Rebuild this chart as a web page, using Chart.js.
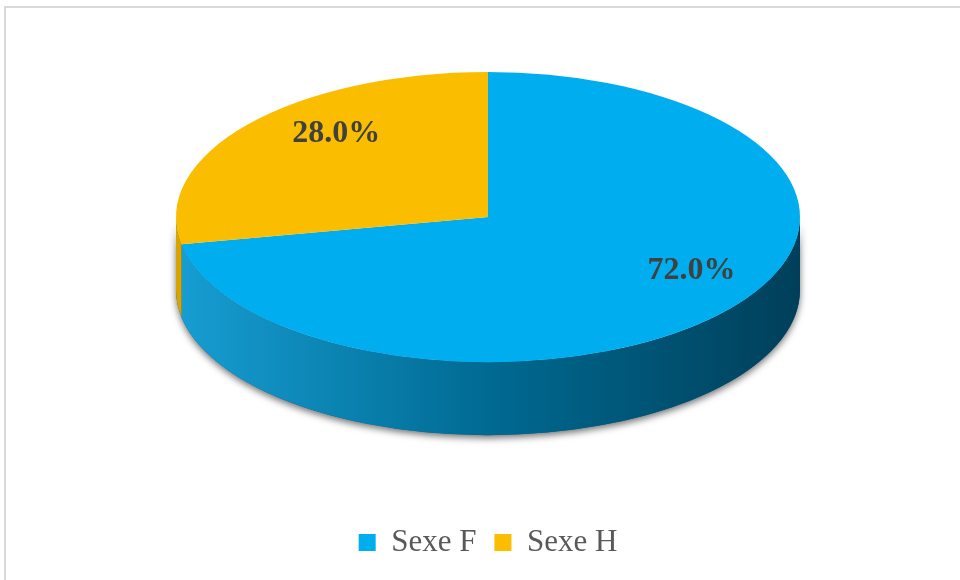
<!DOCTYPE html>
<html>
<head>
<meta charset="utf-8">
<script src="https://cdn.jsdelivr.net/npm/chart.js@4.4.1/dist/chart.umd.min.js"></script>
<style>
  html, body { margin: 0; padding: 0; background: #fff; overflow: hidden; }
  #wrap { position: relative; width: 960px; height: 580px; }
  #frame {
    position: absolute; left: 4px; top: 6px; width: 1000px; height: 700px;
    border-left: 2px solid #d9d9d9; border-top: 2px solid #d9d9d9;
  }
  canvas { position: absolute; left: 0; top: 0; }
</style>
</head>
<body>
<div id="wrap">
  <div id="frame"></div>
  <canvas id="pie" width="960" height="580"></canvas>
</div>
<script>
const labels = ['Sexe F', 'Sexe H'];
const shares = [72.0, 28.0];
const topColors = ['#00aeef', '#fbbd00'];
// side wall colours, light on the left to dark on the right
const sideColors = [['#179ed3', '#006a92', '#003f5a'], ['#d9a300', '#b88a00', '#8a6800']];

const RADIUS = 312;     // horizontal radius of the disc
const TILT = 0.465;     // vertical squash of the top face
const DEPTH = 73;       // thickness of the disc
const LABEL_R = 0.75;   // label distance, as a share of the radius
const LABEL_TURN = 10 * Math.PI / 180;  // labels lean toward 12 o'clock

function pieFrame(chart) {
  const area = chart.chartArea;
  return { cx: (area.left + area.right) / 2, cy: area.top + RADIUS * TILT, ry: RADIUS * TILT };
}

// Draws the front wall under the top face and squashes the slices into an ellipse
const disc3d = {
  id: 'disc3d',
  beforeDatasetsDraw(chart) {
    const ctx = chart.ctx;
    const meta = chart.getDatasetMeta(0);
    const { cx, cy, ry } = pieFrame(chart);

    // soft shadow under the whole front wall
    ctx.save();
    ctx.shadowColor = 'rgba(0,0,0,0.55)';
    ctx.shadowBlur = 7;
    ctx.shadowOffsetY = 3;
    ctx.beginPath();
    ctx.ellipse(cx, cy, RADIUS, ry, 0, 0, Math.PI);
    ctx.ellipse(cx, cy + DEPTH, RADIUS, ry, 0, Math.PI, 0, true);
    ctx.closePath();
    ctx.fillStyle = '#00648a';
    ctx.fill();
    ctx.restore();

    meta.data.forEach((arc, i) => {
      const { startAngle, endAngle } = arc.getProps(['startAngle', 'endAngle'], true);
      const grad = ctx.createLinearGradient(cx - RADIUS, 0, cx + RADIUS, 0);
      grad.addColorStop(0, sideColors[i][0]);
      grad.addColorStop(0.5, sideColors[i][1]);
      grad.addColorStop(1, sideColors[i][2]);
      for (const k of [-2, 0, 2]) {
        const a0 = Math.max(startAngle + k * Math.PI, 0);
        const a1 = Math.min(endAngle + k * Math.PI, Math.PI);
        if (a1 <= a0) continue;
        ctx.beginPath();
        ctx.ellipse(cx, cy, RADIUS, ry, 0, a0, a1);
        ctx.ellipse(cx, cy + DEPTH, RADIUS, ry, 0, a1, a0, true);
        ctx.closePath();
        ctx.fillStyle = grad;
        ctx.fill();
      }
    });

    const arc = meta.data[0];
    ctx.save();
    ctx.translate(cx, cy);
    ctx.scale(1, TILT);
    ctx.translate(-arc.x, -arc.y);
  },
  afterDatasetsDraw(chart) {
    const ctx = chart.ctx;
    ctx.restore();
    const meta = chart.getDatasetMeta(0);
    const { cx, cy, ry } = pieFrame(chart);
    ctx.save();
    ctx.font = 'bold 32px "Liberation Serif", "Times New Roman", serif';
    ctx.fillStyle = '#404040';
    ctx.textAlign = 'center';
    ctx.textBaseline = 'middle';
    meta.data.forEach((arc, i) => {
      const { startAngle, endAngle } = arc.getProps(['startAngle', 'endAngle'], true);
      let mid = (startAngle + endAngle) / 2;
      // turn each label a little toward the top of the disc
      const d = Math.atan2(Math.sin(-Math.PI / 2 - mid), Math.cos(-Math.PI / 2 - mid));
      mid += Math.sign(d) * LABEL_TURN;
      const x = cx + Math.cos(mid) * RADIUS * LABEL_R;
      const y = cy + Math.sin(mid) * ry * LABEL_R;
      ctx.fillText(shares[i].toFixed(1) + '%', x, y);
    });
    ctx.restore();
  }
};

new Chart(document.getElementById('pie'), {
  type: 'pie',
  data: {
    labels: labels,
    datasets: [{
      data: shares,
      backgroundColor: topColors,
      borderWidth: 0,
      radius: RADIUS,
      clip: false
    }]
  },
  options: {
    responsive: false,
    animation: false,
    events: [],
    layout: { padding: { left: 16, right: 0, top: 72, bottom: 12 } },
    plugins: {
      tooltip: { enabled: false },
      legend: {
        position: 'bottom',
        labels: {
          boxWidth: 17,
          boxHeight: 17,
          padding: 18,
          color: '#595959',
          font: { family: '"Liberation Serif", "Times New Roman", serif', size: 31 }
        }
      }
    }
  },
  plugins: [disc3d]
});
</script>
</body>
</html>
